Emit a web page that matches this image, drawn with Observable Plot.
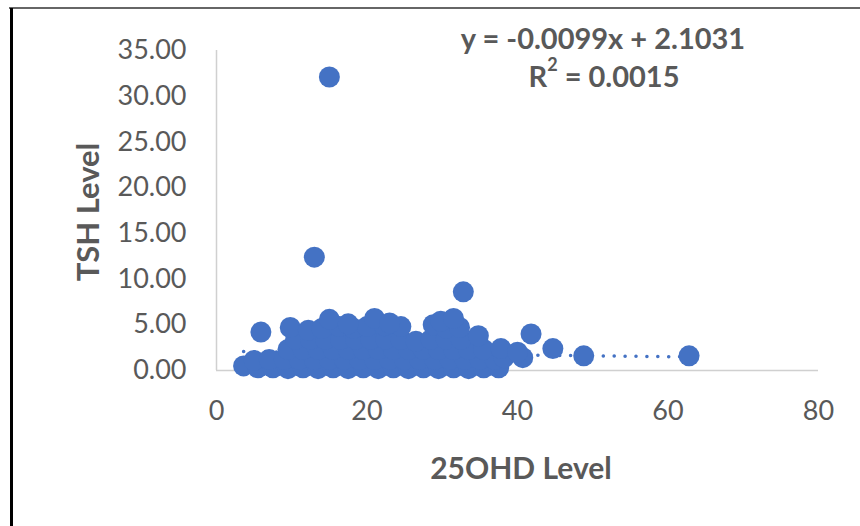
<!DOCTYPE html>
<html>
<head>
<meta charset="utf-8">
<script src="https://cdn.jsdelivr.net/npm/d3@7"></script>
<script src="https://cdn.jsdelivr.net/npm/@observablehq/plot@0.6"></script>
<style>
  html, body { margin: 0; padding: 0; background: #fff; }
  #wrap { position: relative; width: 860px; height: 526px; overflow: hidden; }
  #wrap svg { position: absolute; left: 0; top: 0; }
  #frameTop { position: absolute; left: 9px; top: 7px; width: 860px; height: 2px; background: #666; }
  #frameLeft { position: absolute; left: 10px; top: 8px; width: 3px; height: 530px; background: #000; }
</style>
</head>
<body>
<div id="wrap"><div id="frameTop"></div><div id="frameLeft"></div></div>
<script>
// 25OHD level (x) and TSH level (y)
const ohd = [
  // bottom row
  3.6, 5.5, 7.5, 9.5, 11.5, 13.5, 15.5, 17.5, 19.5, 21.5, 23.5, 25.5, 27.5, 29.5, 31.5, 33.5, 35.5, 37.5,
  // second row
  5, 7, 9, 11, 13, 15, 17, 19, 21, 23, 25, 27, 29, 31, 33, 35, 37, 38.2, 40.7,
  // third row
  9.5, 11.5, 13.5, 15.5, 17.5, 19.5, 21.5, 23.5, 25.5, 27.5, 29.5, 31.5, 33.5, 35.5, 37.8, 40,
  // fourth row
  10.5, 12.5, 14.5, 16.5, 18.5, 20.5, 22.5, 24.5, 26.5, 28.5, 30.5, 32.5, 34.8,
  // fifth row
  9.8, 12.2, 14, 16.3, 18.2, 20, 22.3, 24.5, 28.8, 30.5, 32.3,
  // top row
  15, 17.5, 21, 23, 29.8, 31.5,
  // outliers
  5.9, 13, 15, 32.8, 41.8, 44.7, 48.8, 62.8
];
const tsh = [
  0.5, 0.3, 0.3, 0.2, 0.3, 0.2, 0.3, 0.2, 0.3, 0.2, 0.3, 0.2, 0.3, 0.2, 0.3, 0.2, 0.3, 0.3,
  1.1, 1.2, 1.2, 1.2, 1.2, 1.2, 1.2, 1.2, 1.2, 1.2, 1.2, 1.2, 1.2, 1.2, 1.2, 1.2, 1.2, 1.4, 1.4,
  2.3, 2.3, 2.3, 2.3, 2.3, 2.3, 2.3, 2.3, 2.3, 2.3, 2.3, 2.3, 2.3, 2.3, 2.4, 2.0,
  3.4, 3.4, 3.4, 3.4, 3.4, 3.4, 3.4, 3.4, 3.2, 3.4, 3.4, 3.4, 3.8,
  4.7, 4.4, 4.6, 4.8, 4.6, 4.8, 4.9, 4.8, 5.0, 4.6, 4.7,
  5.6, 5.1, 5.7, 5.2, 5.4, 5.7,
  4.2, 12.4, 32.1, 8.6, 4.0, 2.4, 1.6, 1.6
];
// trendline endpoints from y = -0.0099x + 2.1031
const trendX = [3.6, 62.8];
const trendY = [2.07, 1.48];
const xTicks = [0, 20, 40, 60, 80];
const yTicks = [0, 5, 10, 15, 20, 25, 30, 35];
const xTitle = "25OHD Level";
const yTitle = "TSH Level";
const eqLine1 = "y = -0.0099x + 2.1031";
const eqR2 = "0.0015";

const points = ohd.map((x, i) => ({x, y: tsh[i]}));
const trend = trendX.map((x, i) => ({x, y: trendY[i]}));

const blue = "#4472C4";
const gray = "#595959";

const chart = Plot.plot({
  width: 860,
  height: 526,
  marginLeft: 216,
  marginRight: 42,
  marginTop: 50,
  marginBottom: 156,
  style: {fontFamily: "Lato", fontSize: "27px", color: gray, background: "transparent"},
  x: {domain: [0, 80]},
  y: {domain: [0, 35]},
  marks: [
    Plot.ruleX([0], {stroke: "#d0d0d0", strokeWidth: 1.5}),
    Plot.ruleY([0], {stroke: "#d0d0d0", strokeWidth: 1.5}),
    Plot.axisX({ticks: xTicks, tickSize: 0, tickPadding: 30, label: null, fontSize: 27, fill: gray}),
    Plot.axisY({ticks: yTicks, tickSize: 0, tickPadding: 30, label: null, fontSize: 27, fill: gray,
                tickFormat: d => d.toFixed(2)}),
    Plot.line(trend, {x: "x", y: "y", stroke: blue, strokeWidth: 3.5,
                      strokeDasharray: "0.1,10.8", strokeLinecap: "round"}),
    Plot.dot(points, {x: "x", y: "y", r: 10.5, fill: blue})
  ]
});

const svg = d3.select(chart);
svg.append("text")
  .attr("transform", "translate(87,212) rotate(-90)")
  .attr("text-anchor", "middle").attr("dominant-baseline", "central")
  .attr("font-family", "Lato").attr("font-weight", "bold").attr("font-size", 31)
  .attr("fill", gray).text(yTitle);
svg.append("text")
  .attr("x", 521).attr("y", 467)
  .attr("text-anchor", "middle").attr("dominant-baseline", "central")
  .attr("font-family", "Lato").attr("font-weight", "bold").attr("font-size", 30)
  .attr("fill", gray).text(xTitle);
svg.append("text")
  .attr("x", 603).attr("y", 37)
  .attr("text-anchor", "middle").attr("dominant-baseline", "central")
  .attr("font-family", "Lato").attr("font-weight", "bold").attr("font-size", 29)
  .attr("fill", gray).text(eqLine1);
const r2 = svg.append("text")
  .attr("x", 604).attr("y", 75)
  .attr("text-anchor", "middle").attr("dominant-baseline", "central")
  .attr("font-family", "Lato").attr("font-weight", "bold").attr("font-size", 29)
  .attr("fill", gray);
r2.append("tspan").text("R");
r2.append("tspan").attr("font-size", 18).attr("dy", -11).text("2");
r2.append("tspan").attr("dy", 11).text(" = " + eqR2);

document.getElementById("wrap").appendChild(chart);
</script>
</body>
</html>
